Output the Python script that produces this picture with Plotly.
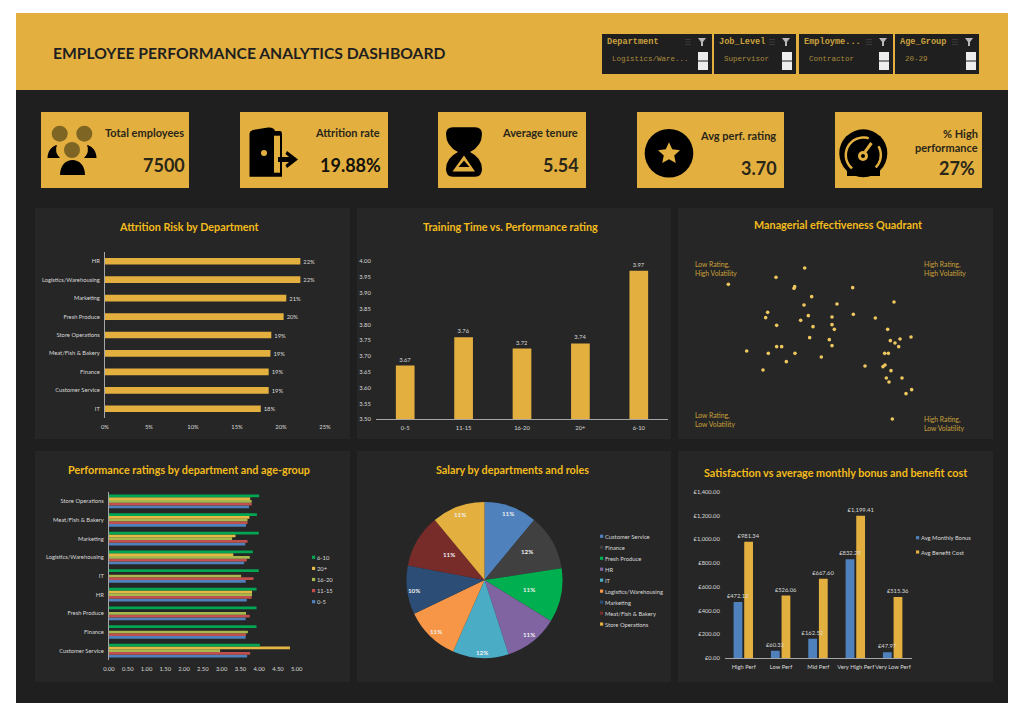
import math

import plotly.graph_objects as go

W, H = 1024, 719

GOLD = "#E3B040"
DARK = "#1F1F1F"
PANEL = "#262626"
TITLE = "#F4BC1C"
TICK = "#D9D9D9"
FONT = "Lato"

# attrition chart
dept_attr = ["IT", "Customer Service", "Finance", "Meat/Fish & Bakery", "Store Operations",
             "Fresh Produce", "Marketing", "Logistics/Warehousing", "HR"]
attr_vals = [17.7, 18.6, 18.6, 18.8, 18.9, 20.3, 20.6, 22.2, 22.2]

# training chart
train_cats = ["0-5", "11-15", "16-20", "20+", "6-10"]
train_vals = [3.67, 3.76, 3.724, 3.74, 3.97]

# manager quadrant
mgr_rating = [3.629, 3.543, 3.400, 3.599, 3.597, 3.773, 3.650, 3.897, 3.627, 3.726,
              3.518, 3.512, 3.640, 3.775, 3.711, 3.841, 3.617, 3.545, 3.711, 3.654,
              3.718, 3.878, 3.948, 3.644, 3.703, 3.915, 3.886, 3.900, 3.911, 3.545,
              3.560, 3.711, 3.455, 3.520, 3.600, 3.869, 3.880, 3.679, 3.574, 3.810,
              3.870, 3.864, 3.504, 3.888, 3.874, 3.921, 3.882, 3.950, 3.933, 3.892]
mgr_volatility = [.901, .873, .852, .845, .840, .842, .815, .799, .790, .793,
                  .768, .752, .758, .762, .754, .751, .744, .729, .731, .725,
                  .717, .717, .694, .692, .686, .688, .683, .676, .665, .665,
                  .665, .668, .652, .645, .645, .645, .645, .634, .620, .607,
                  .610, .605, .595, .593, .571, .571, .559, .536, .524, .448]

# ratings by department and age group
dept_perf = ["Customer Service", "Finance", "Fresh Produce", "HR", "IT",
             "Logistics/Warehousing", "Marketing", "Meat/Fish & Bakery", "Store Operations"]
perf_0_5 = [3.68, 3.64, 3.64, 3.67, 3.64, 3.60, 3.63, 3.65, 3.73]
perf_11_15 = [3.76, 3.65, 3.75, 3.80, 3.85, 3.67, 3.69, 3.69, 3.80]
perf_16_20 = [2.96, 3.70, 3.65, 3.81, 3.52, 3.75, 3.28, 3.69, 3.80]
perf_20p = [4.82, None, None, 3.81, None, 3.31, 3.37, 3.74, 3.76]
perf_6_10 = [4.02, 3.93, 3.93, 3.93, 3.99, 3.83, 3.99, 3.94, 4.00]

# salary pie
pie_labels = ["Customer Service", "Finance", "Fresh Produce", "HR", "IT",
              "Logistics/Warehousing", "Marketing", "Meat/Fish & Bakery", "Store Operations"]
pie_vals = [11.0, 11.6, 11.2, 11.2, 11.6, 11.3, 10.1, 11.0, 11.0]
pie_colors = ["#4F81BD", "#404040", "#00B050", "#8064A2", "#4BACC6",
              "#F79646", "#2C4D75", "#772C2A", GOLD]

# bonus and benefit
sat_cats = ["High Perf", "Low Perf", "Mid Perf", "Very High Perf", "Very Low Perf"]
bonus_vals = [472.12, 60.32, 162.52, 832.29, 47.97]
benefit_vals = [981.34, 526.06, 667.60, 1199.41, 515.36]

shapes = []
notes = []


def px(x):
    return x / W


def py(y):
    return 1 - y / H


def dom_x(a, b):
    return [px(a), px(b)]


def dom_y(top, bottom):
    return [py(bottom), py(top)]


def rect(x0, y0, x1, y1, color):
    shapes.append(dict(type="rect", xref="paper", yref="paper", x0=px(x0), x1=px(x1),
                       y0=py(y1), y1=py(y0), fillcolor=color, line_width=0, layer="below"))


def circle(cx, cy, r, color):
    shapes.append(dict(type="circle", xref="paper", yref="paper", x0=px(cx - r), x1=px(cx + r),
                       y0=py(cy + r), y1=py(cy - r), fillcolor=color, line_width=0, layer="below"))


def path(cmds, color=None, line=None, width=0):
    # cmds like "M 10 20 L 30 40 Z", pixel coordinates
    out = []
    tok = cmds.split()
    is_x = True
    for t in tok:
        if t.isalpha():
            out.append(t)
            is_x = True
        else:
            out.append(f"{px(float(t)):.5f}" if is_x else f"{py(float(t)):.5f}")
            is_x = not is_x
    shapes.append(dict(type="path", xref="paper", yref="paper", path=" ".join(out),
                       fillcolor=color, line=dict(color=line, width=width), layer="below"))


def arc(cx, cy, r, a0, a1, color, width):
    pts = []
    n = 24
    for i in range(n + 1):
        a = math.radians(a0 + (a1 - a0) * i / n)
        pts.append(f"{cx + r * math.sin(a):.2f} {cy - r * math.cos(a):.2f}")
    path("M " + " L ".join(pts), line=color, width=width)


def text(x, y, s, size, color=TICK, anchor="left", bold=False, family=FONT):
    # annotations carry a little padding, take it back so x is the ink edge
    if anchor == "left":
        x -= 1.5
    elif anchor == "right":
        x += 1.5
    notes.append(dict(xref="paper", yref="paper", x=px(x), y=py(y), text=s, showarrow=False,
                      xanchor=anchor, yanchor="middle", align=anchor,
                      font=dict(size=size, color=color, family=family, weight=700 if bold else 400)))


# page blocks
rect(16, 13, 1008, 703, DARK)
rect(16, 13, 1008, 90, GOLD)
for x0, x1 in [(35, 350), (357, 671), (678, 993)]:
    rect(x0, 208, x1, 439, PANEL)
    rect(x0, 451, x1, 682, PANEL)

text(52, 53, "EMPLOYEE PERFORMANCE ANALYTICS DASHBOARD", 15.7, "#1F1F1F", bold=True)

# slicers
MONO = "Liberation Mono"
slicers = [("Department", "Logistics/Ware...", 602, 712, 698),
           ("Job_Level", "Supervisor", 714, 796, 782),
           ("Employme...", "Contractor", 799, 893, 879),
           ("Age_Group", "20-29", 895, 979, 966)]
for name, item, x0, x1, bx in slicers:
    rect(x0, 34, x1, 74, DARK)
    text(x0 + 4, 42.5, name, 8.6, "#C9A03E", bold=True, family=MONO)
    text(x0 + 9, 58.5, item, 7.5, "#A88A3C", family=MONO)
    rect(bx, 52, bx + 10, 60.5, "#EDEDED")
    rect(bx, 61.5, bx + 10, 70, "#EDEDED")
    fx = x1 - 10
    path(f"M {fx - 4} 38 L {fx + 4} 38 L {fx + 1} 42 L {fx + 1} 46 L {fx - 1} 46 L {fx - 1} 42 Z", color="#B8B8B8")
    for dy in (39, 41.5, 44):
        rect(fx - 17, dy, fx - 11, dy + 1, "#3A3A3A")

# kpi cards
cards = [(41, 189), (240, 388), (438, 586), (637, 784), (835, 982)]
for x0, x1 in cards:
    rect(x0, 112, x1, 188, GOLD)

KPI = "#2A2618"
text(184, 132, "Total employees", 11, KPI, "right", True)
text(185, 165, "7500", 18, KPI, "right", True)
text(380, 132, "Attrition rate", 11, KPI, "right", True)
text(381, 165, "19.88%", 18, "#14120C", "right", True)
text(578, 132, "Average tenure", 11, KPI, "right", True)
text(579, 165, "5.54", 18, KPI, "right", True)
text(776, 135, "Avg perf. rating", 11, KPI, "right", True)
text(777, 168, "3.70", 18, KPI, "right", True)
text(978, 133, "% High", 11, KPI, "right", True)
text(978, 147.5, "performance", 11, KPI, "right", True)
text(975, 168, "27%", 18, KPI, "right", True)

# people icon
for cx, cy in [(59.7, 133.7), (84.3, 133.7), (72, 150)]:
    circle(cx, cy, 8, "#7F6524")
path("M 60 175 C 60 155 85 155 85 175 Z", color="#000000")
path("M 47.5 158 C 47.5 151 52 146 57 145 Q 54 152 60 158 Z", color="#000000")
path("M 96.5 158 C 96.5 151 92 146 87 145 Q 90 152 84 158 Z", color="#000000")

# door icon
path("M 249.5 176.7 L 249.5 134 Q 249.5 131 253 130 L 268 127.5 Q 274 127 275 131 "
     "L 280 131 Q 282 131 282 134 L 282 176.7 Z", color="#000000")
rect(274, 135.7, 280, 172.7, GOLD)
circle(264, 153, 3, GOLD)
rect(278, 157, 292, 162, "#000000")
path("M 287 151 L 298 159.5 L 287 168 L 285.5 165 L 292 159.5 L 285.5 154 Z", color="#000000")

# hourglass icon
path("M 446 134 Q 446 127.3 453 127.3 L 475 127.3 Q 482 127.3 482 134 Q 482 146 470 152 "
     "Q 482 158 482 169 Q 482 176.7 475 176.7 L 453 176.7 Q 446 176.7 446 169 "
     "Q 446 158 458 152 Q 446 146 446 134 Z", color="#000000")
path("M 464 155.5 L 475 171.5 L 452.5 171.5 Z", color=GOLD)
path("M 464 160.5 L 469.5 167 L 458.5 167 Z", color="#000000")

# star icon
circle(669, 153.3, 24.3, "#000000")
star = []
for i in range(10):
    r = 11.5 if i % 2 == 0 else 5.5
    a = math.radians(36 * i)
    star.append(f"{669 + r * math.sin(a):.2f} {153.8 - r * math.cos(a):.2f}")
path("M " + " L ".join(star) + " Z", color=GOLD)

# gauge icon
circle(863.3, 153.3, 24, "#000000")
rect(847, 166, 880, 176, "#000000")
arc(863.3, 155, 17.5, -140, 18, GOLD, 2.5)
arc(863.3, 155, 17.5, 60, 135, GOLD, 2.5)
circle(863, 156, 5, GOLD)
circle(863, 156, 2, "#000000")
path("M 865 152 L 871.5 143", line=GOLD, width=3)

# chart titles
text(188.7, 226.7, "Attrition Risk by Department", 10.8, TITLE, "center", True)
text(510, 226.7, "Training Time vs. Performance rating", 10.8, TITLE, "center", True)
text(838, 224.3, "Managerial effectiveness Quadrant", 10.8, TITLE, "center", True)
text(189.3, 469.7, "Performance ratings by department and age-group", 10.8, TITLE, "center", True)
text(512.7, 469.7, "Salary by departments and roles", 10.8, TITLE, "center", True)
text(835.3, 472.3, "Satisfaction vs average monthly bonus and benefit cost", 10.8, TITLE, "center", True)

# quadrant labels
QC = "#C9A13B"
text(694, 268, "Low Rating,<br>High Volatility", 6.8, QC)
text(923, 268, "High Rating,<br>High Volatility", 6.8, QC)
text(694, 419, "Low Rating,<br>Low Volatility", 6.8, QC)
text(923, 423, "High Rating,<br>Low Volatility", 6.8, QC)

tickfont = dict(size=5.8, color=TICK, family=FONT)
fig = go.Figure()

# 1 attrition
fig.add_trace(go.Bar(x=attr_vals, y=dept_attr, orientation="h", marker_color=GOLD, width=0.36,
                     texttemplate="%{x:.0f}%", textposition="outside", cliponaxis=False,
                     constraintext="none", textfont=tickfont, xaxis="x", yaxis="y"))
# 2 training
fig.add_trace(go.Bar(x=train_cats, y=train_vals, marker_color=GOLD, width=0.32,
                     texttemplate="%{y:.2f}", textposition="outside", cliponaxis=False,
                     constraintext="none", textfont=tickfont, xaxis="x2", yaxis="y2"))
# 3 quadrant
fig.add_trace(go.Scatter(x=mgr_rating, y=mgr_volatility, mode="markers",
                         marker=dict(size=3.6, color="#F0C860"), xaxis="x3", yaxis="y3"))
# 4 ratings, series order bottom to top in each group
perf_series = [("0-5", perf_0_5, "#4F81BD"), ("11-15", perf_11_15, "#C0504D"),
               ("16-20", perf_16_20, "#A8B84F"), ("20+", perf_20p, "#E3B843"),
               ("6-10", perf_6_10, "#00A651")]
for name, vals, color in perf_series:
    fig.add_trace(go.Bar(name=name, x=vals, y=dept_perf, orientation="h", marker_color=color,
                         xaxis="x4", yaxis="y4"))
# 5 pie, percent labels go on as annotations further down
fig.add_trace(go.Pie(labels=pie_labels, values=pie_vals, sort=False, direction="clockwise",
                     rotation=0, marker=dict(colors=pie_colors, line_width=0), textinfo="none",
                     domain=dict(x=dom_x(406, 563), y=dom_y(502, 658))))
# 6 bonus / benefit, gold first so the blue labels stay on top of the gold bars
for name, vals, color, off in [("Avg Benefit Cost", benefit_vals, GOLD, 0.015),
                               ("Avg Monthly Bonus", bonus_vals, "#4F81BD", -0.27)]:
    fig.add_trace(go.Bar(name=name, x=sat_cats, y=vals, marker_color=color, width=0.235, offset=off,
                         texttemplate="£%{y:,.2f}", textposition="outside", cliponaxis=False,
                         constraintext="none", textfont=tickfont, xaxis="x6", yaxis="y6"))

# pie labels sit where the original's best fit put them
pie_label_pos = [(507.7, 513.3), (526.7, 551), (528.7, 589.7), (528.7, 634.7), (482, 652.3),
                 (436.3, 631), (414.3, 590), (449, 554.3), (460.3, 514)]
pie_total = sum(pie_vals)
for (lx, ly), v in zip(pie_label_pos, pie_vals):
    text(lx, ly, f"{v / pie_total:.0%}", 6.2, "#F2F2F2", "center", True)

# manual legends, native ones cannot be packed this tight
for i, (name, vals, color) in enumerate(reversed(perf_series)):
    y = 557.3 + i * 11.1
    rect(312, y - 1.6, 315.2, y + 1.6, color)
    text(316.7, y, name, 5.8)
for i, (name, color) in enumerate(zip(pie_labels, pie_colors)):
    y = 536.3 + i * 10.97
    rect(600, y - 1.6, 603.2, y + 1.6, color)
    text(604, y, name, 5.8)
for i, (name, color) in enumerate([("Avg Monthly Bonus", "#4F81BD"), ("Avg Benefit Cost", GOLD)]):
    y = 537.7 + i * 14.3
    rect(916, y - 1.6, 919.2, y + 1.6, color)
    text(920.7, y, name, 5.8)

axis_base = dict(showgrid=False, zeroline=False, tickfont=tickfont, ticks="outside", ticklen=3,
                 tickcolor="rgba(0,0,0,0)", fixedrange=True, automargin=False, tickangle=0)
axis_line = dict(showline=True, linecolor="#A6A6A6", linewidth=1)

fig.update_layout(
    template="none",
    width=W,
    height=H,
    margin=dict(l=0, r=0, t=0, b=0),
    paper_bgcolor="#FFFFFF",
    plot_bgcolor="rgba(0,0,0,0)",
    showlegend=False,
    barmode="group",
    bargap=0.27,
    font=dict(family=FONT),
    shapes=shapes,
    annotations=notes,
    xaxis=dict(axis_base, domain=dom_x(105, 325), range=[0, 25], dtick=5, ticksuffix="%"),
    yaxis=dict(axis_base, **axis_line, domain=dom_y(252, 418), type="category", anchor="x"),
    xaxis2=dict(axis_base, **axis_line, domain=dom_x(376, 668), type="category",
                categoryorder="array", categoryarray=train_cats, anchor="y2"),
    yaxis2=dict(axis_base, domain=dom_y(261.3, 419.3), range=[3.5, 4.0], dtick=0.05,
                tickformat=".2f", anchor="x2"),
    xaxis3=dict(visible=False, domain=dom_x(675, 995), range=[3.24, 4.2], anchor="y3"),
    yaxis3=dict(visible=False, domain=dom_y(205, 440), range=[0.385, 1.09], anchor="x3"),
    xaxis4=dict(axis_base, domain=dom_x(109, 296.7), range=[0, 5], dtick=0.5, tickformat=".2f", anchor="y4"),
    yaxis4=dict(axis_base, **axis_line, domain=dom_y(492, 660), type="category", anchor="x4"),
    xaxis6=dict(axis_base, **axis_line, domain=dom_x(725, 911.7), type="category", anchor="y6"),
    yaxis6=dict(axis_base, domain=dom_y(492, 658), range=[0, 1400], dtick=200,
                tickprefix="£", tickformat=",.2f", anchor="x6"),
)

fig.write_html("out.html", config=dict(displayModeBar=False),
               post_script="document.body.style.margin='0';")
